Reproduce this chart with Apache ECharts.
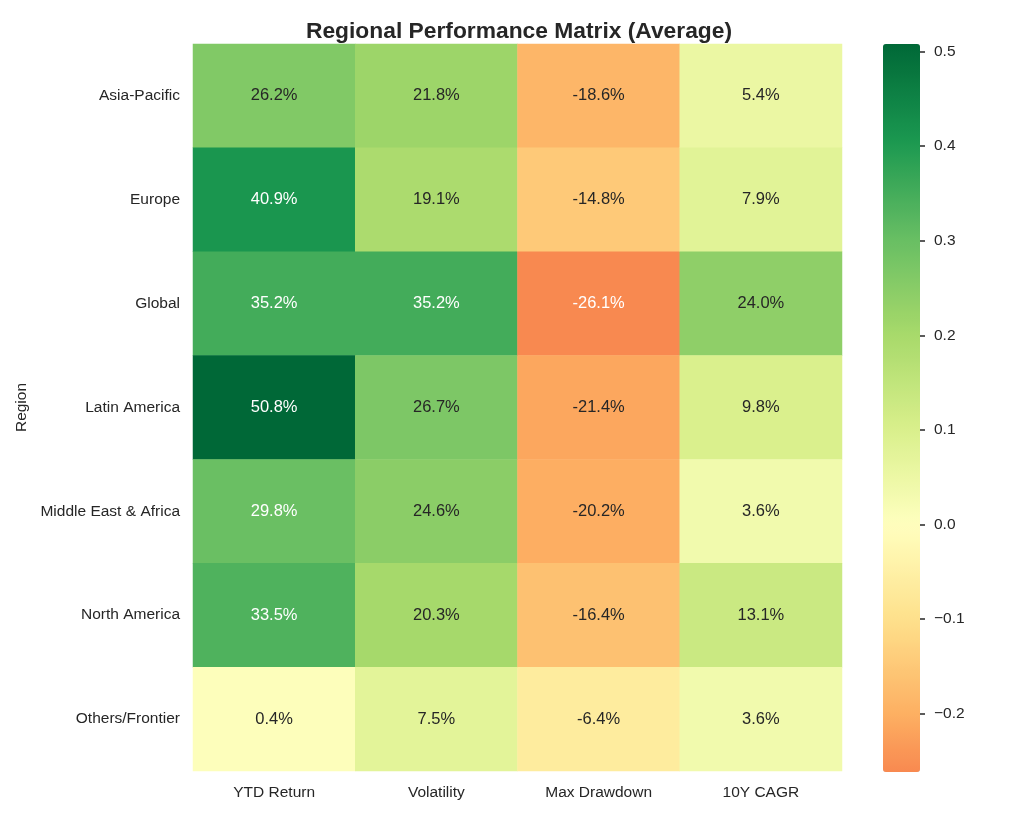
<!DOCTYPE html>
<html><head><meta charset="utf-8">
<script src="https://cdn.jsdelivr.net/npm/echarts@6/dist/echarts.min.js"></script>
<style>html,body{margin:0;padding:0;background:#fff}#c{width:1024px;height:819px}</style>
</head><body><div id="c"></div>
<script>
const regions = ['Asia-Pacific','Europe','Global','Latin America','Middle East & Africa','North America','Others/Frontier'];
const metrics = ['YTD Return','Volatility','Max Drawdown','10Y CAGR'];
const ytdReturn   = [26.2, 40.9, 35.2, 50.8, 29.8, 33.5, 0.4];
const volatility  = [21.8, 19.1, 35.2, 26.7, 24.6, 20.3, 7.5];
const maxDrawdown = [-18.6, -14.8, -26.1, -21.4, -20.2, -16.4, -6.4];
const cagr10y     = [5.4, 7.9, 24.0, 9.8, 3.6, 13.1, 3.6];
const colorbarTicks = [-0.2, -0.1, 0, 0.1, 0.2, 0.3, 0.4, 0.5];
const vmin = -0.2615, vmax = 0.508;

const RdYlGn = ['#a50026','#d73027','#f46d43','#fdae61','#fee08b','#ffffbf','#d9ef8b','#a6d96a','#66bd63','#1a9850','#006837'];
function hex2rgb(h){return [parseInt(h.slice(1,3),16),parseInt(h.slice(3,5),16),parseInt(h.slice(5,7),16)];}
function cmap(p){p=Math.max(0,Math.min(1,p));const s=p*10;let i=Math.floor(s);if(i>=10)i=9;const t=s-i;const a=hex2rgb(RdYlGn[i]),b=hex2rgb(RdYlGn[i+1]);return a.map((x,k)=>Math.round(x+(b[k]-x)*t));}
const absMax = Math.max(Math.abs(vmin), Math.abs(vmax));
function colorFor(v){return cmap(0.5 + v/(2*absMax));}
function toHex(c){return '#'+c.map(x=>x.toString(16).padStart(2,'0')).join('');}
function lum(c){const l=c.map(x=>{x/=255;return x<=0.03928?x/12.92:Math.pow((x+0.055)/1.055,2.4);});return 0.2126*l[0]+0.7152*l[1]+0.0722*l[2];}

const stops=[];const N=60;for(let i=0;i<=N;i++){stops.push(toHex(colorFor(vmin+(vmax-vmin)*i/N)));}

const cols=[ytdReturn,volatility,maxDrawdown,cagr10y];
const data=[];
cols.forEach((arr,xi)=>arr.forEach((v,yi)=>{
  const f=v/100;
  const tc=lum(colorFor(f))>0.42?'#262626':'#ffffff';
  data.push({value:[xi,yi,f],label:{color:tc}});
}));

const font='"Liberation Sans", Arial, sans-serif';
const chart=echarts.init(document.getElementById('c'));
chart.setOption({
  backgroundColor:'#fff',
  animation:false,
  title:{text:'Regional Performance Matrix (Average)',left:514,top:15,textAlign:'center',
    textStyle:{fontFamily:font,fontSize:22.8,fontWeight:'bold',color:'#262626'}},
  grid:[{left:193,right:182,top:44,bottom:48},{left:883,width:37,top:44,bottom:47}],
  xAxis:[{type:'category',data:metrics,gridIndex:0,axisLine:{show:false},axisTick:{show:false},
    axisLabel:{fontFamily:font,fontSize:15.5,color:'#262626',margin:14},splitLine:{show:false}},
    {type:'value',gridIndex:1,show:false,min:0,max:1}],
  yAxis:[{type:'category',data:regions,inverse:true,gridIndex:0,axisLine:{show:false},axisTick:{show:false},
    axisLabel:{fontFamily:font,fontSize:15.5,color:'#262626',margin:13},
    name:'Region',nameLocation:'middle',nameGap:156,nameRotate:90,
    nameTextStyle:{fontFamily:font,fontSize:15.5,color:'#262626'}},
    {type:'value',gridIndex:1,position:'right',min:vmin,max:vmax,z:10,
     axisLine:{show:true,onZero:false,lineStyle:{color:'rgba(0,0,0,0)'}},splitLine:{show:false},
     axisTick:{show:true,length:5,inside:false,lineStyle:{color:'#262626',width:1.5},customValues:colorbarTicks},
     axisLabel:{fontFamily:font,fontSize:15.5,color:'#262626',margin:14,customValues:colorbarTicks,
       formatter:v=>{const r=Math.round(v*10)/10;return (r<0?'\u2212':'')+Math.abs(r).toFixed(1);}}}],
  visualMap:{type:'continuous',seriesIndex:0,min:vmin,max:vmax,calculable:false,show:true,
    orient:'vertical',left:883,top:44,itemWidth:37,itemHeight:728,padding:0,text:null,showLabel:false,
    inRange:{color:stops}},
  series:[{type:'heatmap',xAxisIndex:0,yAxisIndex:0,data:data,
    itemStyle:{borderWidth:0},
    label:{show:true,fontFamily:font,fontSize:16.5,formatter:p=>(p.value[2]*100).toFixed(1)+'%'},
    emphasis:{disabled:true}}]
});
</script></body></html>
